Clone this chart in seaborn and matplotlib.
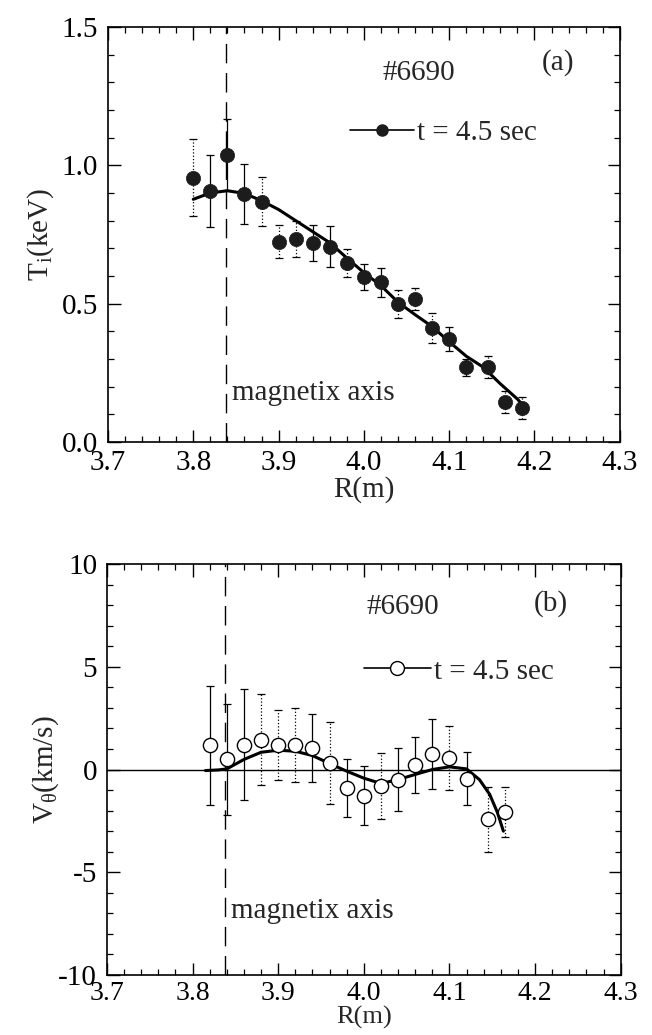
import matplotlib
matplotlib.use("Agg")
import matplotlib.pyplot as plt
import seaborn as sns
from matplotlib.ticker import MultipleLocator, FormatStrFormatter
from matplotlib.lines import Line2D

# ---- panel (a): ion temperature ----
r_ti = [3.80, 3.82, 3.84, 3.86, 3.88, 3.90, 3.92, 3.94, 3.96, 3.98,
        4.00, 4.02, 4.04, 4.06, 4.08, 4.10, 4.12, 4.145, 4.165, 4.185]
ti = [0.955, 0.907, 1.037, 0.896, 0.869, 0.724, 0.732, 0.718, 0.706, 0.646,
      0.597, 0.577, 0.499, 0.516, 0.413, 0.372, 0.270, 0.270, 0.145, 0.122]
ti_err = [0.14, 0.13, 0.13, 0.11, 0.09, 0.06, 0.065, 0.065, 0.075, 0.05,
          0.047, 0.053, 0.05, 0.04, 0.054, 0.045, 0.03, 0.04, 0.04, 0.04]
ti_err_style = [':', '-', '-', '-', ':', ':', ':', '-', '-', ':',
                '-', '-', ':', ':', ':', '-', '-', ':', ':', ':']

r_ti_fit = [3.80, 3.82, 3.84, 3.86, 3.88, 3.90, 3.92, 3.94, 3.96, 3.98, 4.00,
            4.02, 4.04, 4.06, 4.08, 4.10, 4.12, 4.14, 4.16, 4.18, 4.19]
ti_fit = [0.877, 0.900, 0.908, 0.898, 0.872, 0.840, 0.800, 0.760, 0.720, 0.665, 0.612,
          0.565, 0.505, 0.460, 0.417, 0.362, 0.310, 0.270, 0.210, 0.155, 0.120]

# ---- panel (b): poloidal rotation ----
r_v = [3.82, 3.84, 3.86, 3.88, 3.90, 3.92, 3.94, 3.96, 3.98, 4.00,
       4.02, 4.04, 4.06, 4.08, 4.10, 4.12, 4.145, 4.165]
v = [1.18, 0.49, 1.21, 1.46, 1.21, 1.21, 1.05, 0.30, -0.89, -1.27,
     -0.81, -0.49, 0.24, 0.76, 0.57, -0.44, -2.43, -2.07]
v_err = [2.9, 2.7, 2.7, 2.2, 1.7, 1.8, 1.65, 2.0, 1.4, 1.45,
         1.6, 1.55, 1.36, 1.7, 1.55, 1.3, 1.6, 1.2]
v_err_style = ['-', '-', '-', ':', ':', ':', '-', ':', '-', '-',
               ':', '-', '-', '-', ':', '-', ':', ':']

r_v_fit = [3.815, 3.83, 3.84, 3.86, 3.88, 3.90, 3.92, 3.94, 3.96, 3.98, 4.00,
           4.02, 4.04, 4.06, 4.08, 4.10, 4.12, 4.135, 4.147, 4.156, 4.163]
v_fit = [-0.05, -0.02, 0.03, 0.49, 0.84, 0.94, 0.89, 0.68, 0.29, -0.08, -0.42,
         -0.68, -0.49, -0.24, 0.0, 0.13, 0.03, -0.49, -1.21, -2.09, -3.0]

r_axis = 3.838

sns.set_style("ticks")
plt.rcParams['font.family'] = ['Liberation Serif', 'DejaVu Serif']
plt.rcParams['mathtext.fontset'] = 'custom'
plt.rcParams['mathtext.rm'] = 'Liberation Serif'
plt.rcParams['mathtext.it'] = 'Liberation Serif:italic'
plt.rcParams['axes.unicode_minus'] = False

fig = plt.figure(figsize=(6.52, 10.35), dpi=100)
ax1 = fig.add_axes([0.1656, 0.573, 0.785, 0.401])
ax2 = fig.add_axes([0.164, 0.058, 0.788, 0.397])


def style_axis(ax, xpad, xsize):
    for s in ax.spines.values():
        s.set_linewidth(1.2)
        s.set_color('black')
    ax.tick_params(which='both', direction='in', top=True, right=True,
                   colors='black', labelsize=21, pad=7)
    ax.tick_params(axis='x', which='both', pad=xpad, labelsize=xsize)
    ax.tick_params(which='major', length=9, width=1.0)
    ax.tick_params(which='minor', length=4, width=0.9)
    ax.xaxis.set_major_locator(MultipleLocator(0.1))
    ax.xaxis.set_minor_locator(MultipleLocator(0.02))
    ax.xaxis.set_major_formatter(FormatStrFormatter('%.1f'))
    ax.set_xlim(3.7, 4.3)
    ax.axvline(r_axis, color='black', lw=1.0, dashes=(14, 7), zorder=1)


def draw_errors(ax, x, y, err, styles):
    eb = ax.errorbar(x, y, yerr=err, fmt='none', ecolor='black',
                     elinewidth=0.9, capsize=3, capthick=0.9, zorder=2)
    eb[2][0].set_linestyles(styles)


# panel (a)
style_axis(ax1, 6, 21)
ax1.set_xlabel('R(m)', fontsize=21, labelpad=0)
draw_errors(ax1, r_ti, ti, ti_err, ti_err_style)
sns.lineplot(x=r_ti_fit, y=ti_fit, ax=ax1, color='black', lw=2.2,
             sort=False, estimator=None, zorder=3)
sns.scatterplot(x=r_ti, y=ti, ax=ax1, s=105, color='#1c1c1c',
                edgecolor='#1c1c1c', linewidth=0.5, zorder=4)
ax1.set_ylim(0, 1.5)
ax1.yaxis.set_major_locator(MultipleLocator(0.5))
ax1.yaxis.set_minor_locator(MultipleLocator(0.1))
ax1.yaxis.set_major_formatter(FormatStrFormatter('%.1f'))
ax1.set_ylabel(r'T$_\mathregular{i}$(keV)', fontsize=21, labelpad=4)
ax1.text(4.022, 1.334, '#6690', fontsize=21, ha='left', va='center')
ax1.text(4.208, 1.37, '(a)', fontsize=21, ha='left', va='center')
ax1.text(3.845, 0.177, 'magnetix axis', fontsize=21, ha='left', va='center')
h1 = Line2D([], [], color='black', lw=1.2, marker='o', ms=8,
            markerfacecolor='#1c1c1c', markeredgecolor='#1c1c1c')
ax1.legend([h1], ['t = 4.5 sec'], loc='center left', bbox_to_anchor=(0.472, 0.745),
           frameon=False, fontsize=21, handlelength=2.2, handletextpad=0.1,
           borderpad=0, borderaxespad=0, numpoints=1)

# panel (b)
style_axis(ax2, 4, 20)
ax2.set_xlabel('R(m)', fontsize=19, labelpad=0)
ax2.axhline(0, color='black', lw=1.0, zorder=1)
draw_errors(ax2, r_v, v, v_err, v_err_style)
sns.lineplot(x=r_v_fit, y=v_fit, ax=ax2, color='black', lw=2.2,
             sort=False, estimator=None, zorder=3)
sns.scatterplot(x=r_v, y=v, ax=ax2, s=105, color='white',
                edgecolor='black', linewidth=1.0, zorder=4)
ax2.set_ylim(-10, 10)
ax2.yaxis.set_major_locator(MultipleLocator(5))
ax2.yaxis.set_minor_locator(MultipleLocator(1))
ax2.set_ylabel(r'V$_\mathregular{\theta}$(km/s)', fontsize=21, labelpad=-2)
ax2.text(4.003, 7.9, '#6690', fontsize=21, ha='left', va='center')
ax2.text(4.198, 8.1, '(b)', fontsize=21, ha='left', va='center')
ax2.text(3.845, -6.9, 'magnetix axis', fontsize=21, ha='left', va='center')
h2 = Line2D([], [], color='black', lw=1.2, marker='o', ms=10,
            markerfacecolor='white', markeredgecolor='black')
ax2.legend([h2], ['t = 4.5 sec'], loc='center left', bbox_to_anchor=(0.50, 0.739),
           frameon=False, fontsize=21, handlelength=2.3, handletextpad=0.1,
           borderpad=0, borderaxespad=0, numpoints=1)

fig.savefig('out.png', dpi=100)
